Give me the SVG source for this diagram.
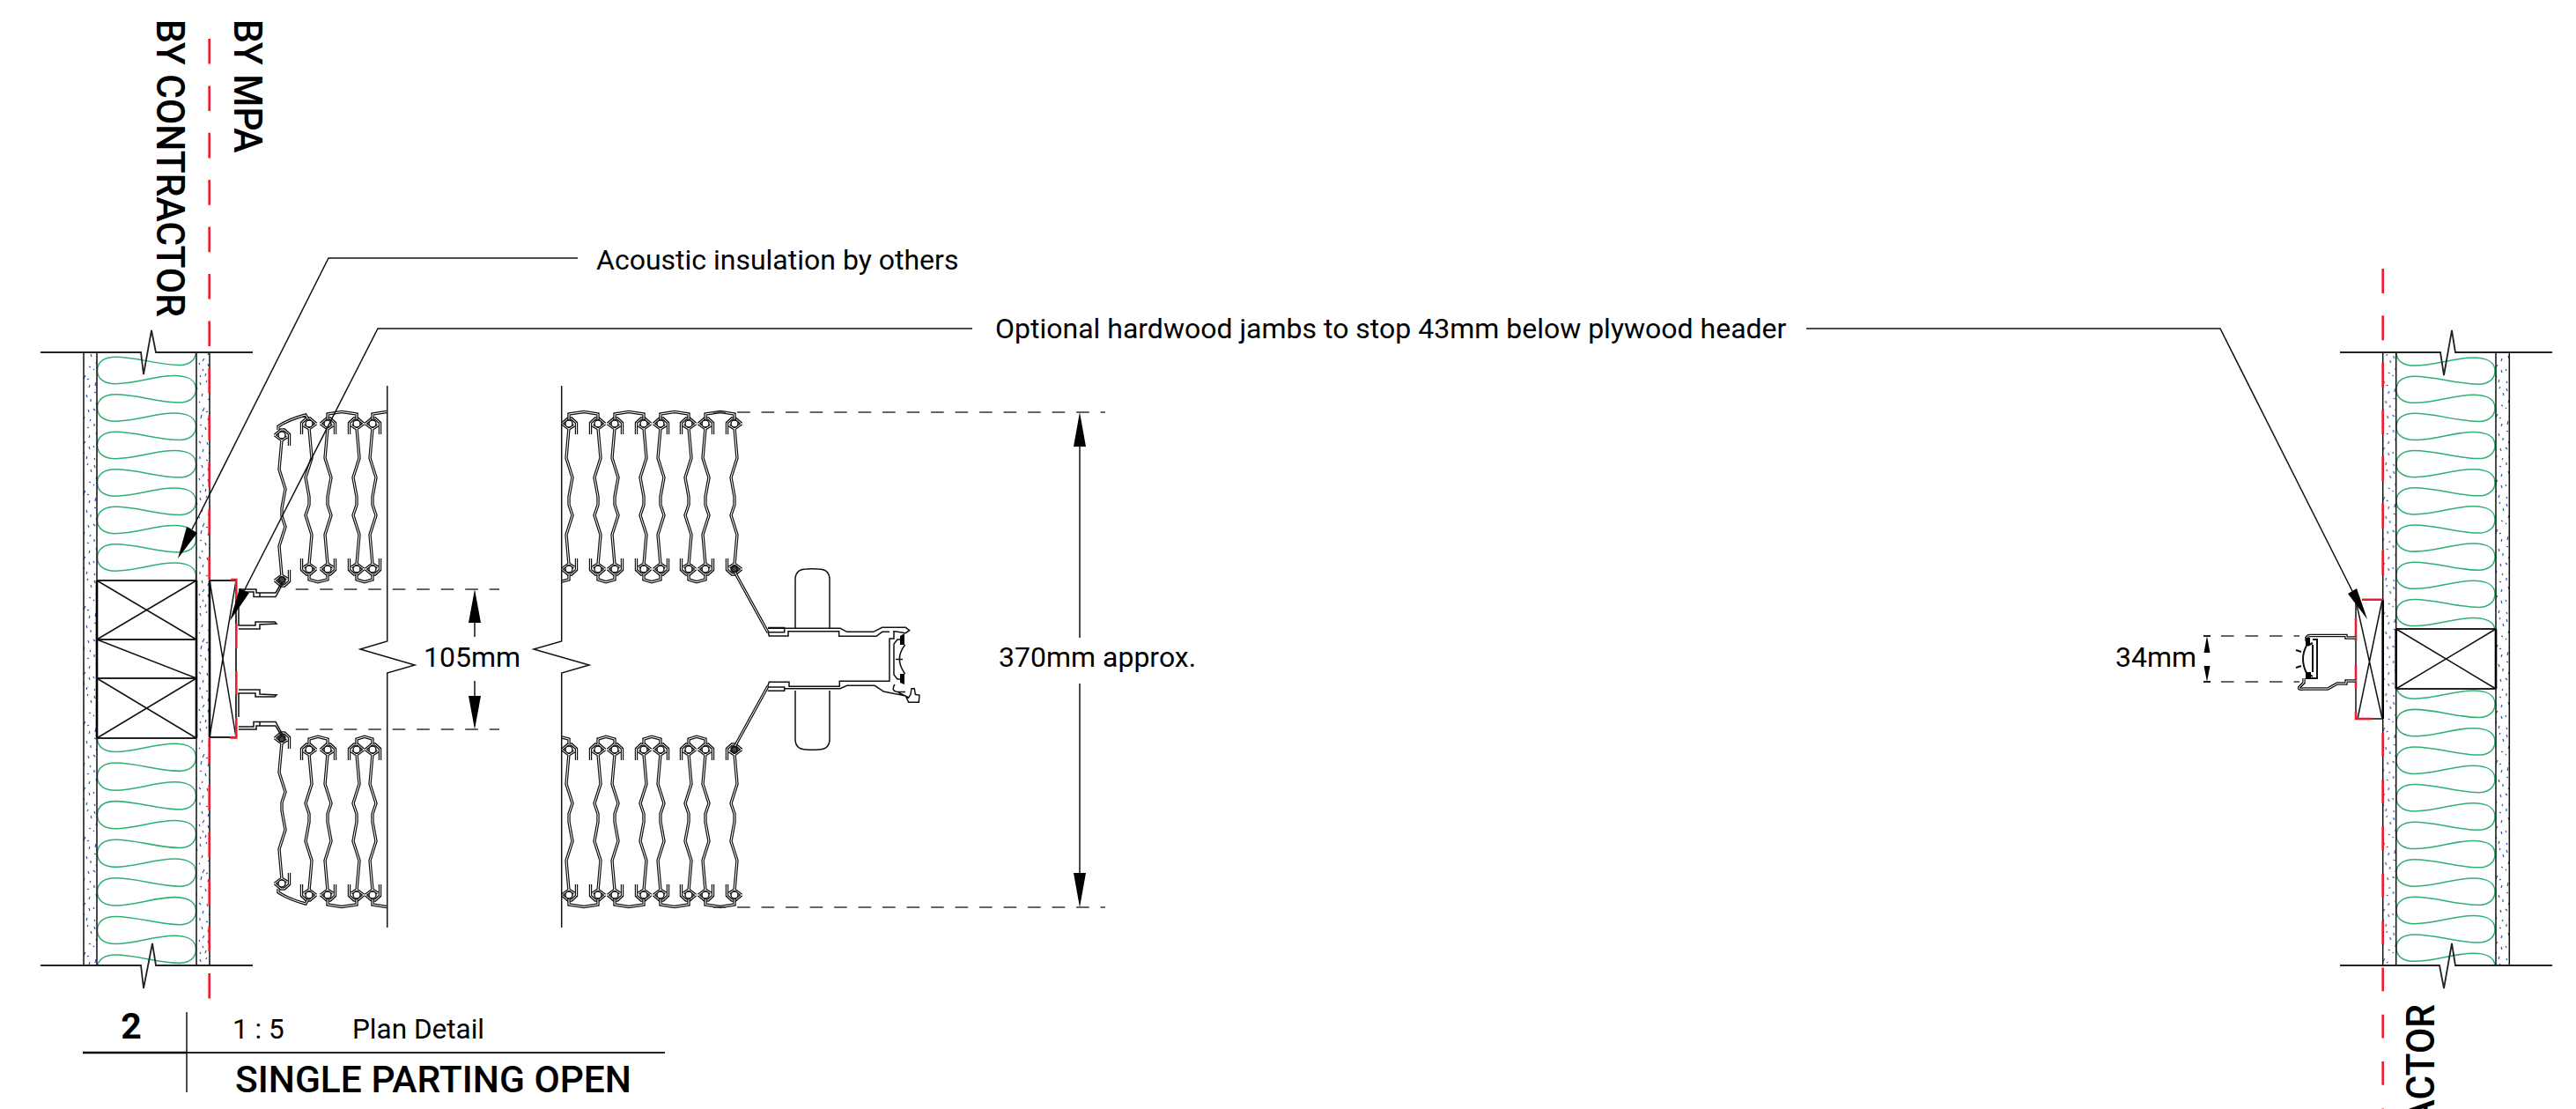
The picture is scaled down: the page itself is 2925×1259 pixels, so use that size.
<svg xmlns="http://www.w3.org/2000/svg" width="2925" height="1259" viewBox="0 0 2925 1259">
<style>
text{font-family:Roboto,"Liberation Sans",sans-serif;fill:#000}
.t{font-size:32px}
.cap{font-size:45px;font-weight:500}
.ln,.thk,.o,.i,.dash,.red,.grn,.sp,.prof{fill:none}
.ln{stroke:#111;stroke-width:1.5}
.thk{stroke:#000;stroke-width:2.6}
.hz{stroke:#222;stroke-width:1.8}
.o{stroke:#111;stroke-width:3.4;stroke-linejoin:miter}
.i{stroke:#fff;stroke-width:1}
.prof{stroke:#111;stroke-width:1.5}
.dash{stroke:#333;stroke-width:1.7;stroke-dasharray:14.6 12.9}
.red{stroke:#ed1c2e;stroke-width:2.6}
.rd{stroke-dasharray:28.6 24.8}
.grn{stroke:#2eb070;stroke-width:1.5}
.sp{stroke:#3450a8;stroke-width:1.2}
.k{fill:#fff;stroke:#111;stroke-width:1.4}
.kd{fill:#444;stroke:#111;stroke-width:1.4}
.ar{fill:#000;stroke:none}
</style>
<defs>
<clipPath id="cLU"><rect x="105" y="400" width="125" height="259"/></clipPath>
<clipPath id="cLL"><rect x="105" y="838" width="125" height="258"/></clipPath>
<clipPath id="cRU"><rect x="2715" y="400" width="125" height="314"/></clipPath>
<clipPath id="cRL"><rect x="2715" y="782" width="125" height="314"/></clipPath>
<path id="w" class="grn" d="M110.5,0C110.5,10 119,15 131,15C155,15 175,6 198,6C213,6 222.5,11 222.5,21C222.5,31 214,36 204,36C180,36 155,27 131,27C119,27 110.5,32 110.5,42"/>
<g id="waves"><use href="#w"/><use href="#w" y="42"/><use href="#w" y="84"/><use href="#w" y="126"/><use href="#w" y="168"/><use href="#w" y="210"/><use href="#w" y="252"/><use href="#w" y="294"/></g>
<pattern id="spk" patternUnits="userSpaceOnUse" width="15" height="131">
<path class="sp" d="M2,4l1,3M10,2l-1,2M13,9l1,3M5,17l-1,3M1,26l1,1M11,23l2,1M7,33l-2,4M4,41l-1,4M9,38l2,-1M12,44l-1,3M2,52l2,1M8,55l1,3M13,60l0,3M5,64l-1,2M1,71l2,2M10,72l1,3M6,80l-1,3M13,83l-1,2M2,88l0,3M9,92l2,1M4,98l1,3M12,101l-1,3M7,108l-2,3M1,113l1,2M11,114l1,3M5,120l1,2M9,125l-1,3M2,127l1,2"/>
</pattern>
<path id="bp" d="M0,5L-3,39L4,61L0,83V92L4,104L-3,126L0,160M-8,0L-1,-6H3L8.5,-1V12M-8,0L0,6L6,2M-8,165L-1,171H3L8.5,166V153M-8,165L0,159L6,163"/>
<g id="bA"><use href="#bp" class="o"/><use href="#bp" class="i"/><circle class="k" cx="0" cy="0" r="4"/><circle class="k" cx="0" cy="165" r="4"/></g>
<g id="bB"><use href="#bA" transform="scale(-1,1)"/></g>
<path id="ch" d="M372,476V470L388,467.5L405,470V476M423,476V470L439,467.5M646,476V470L663,467.5L679,470V476M698,476V470L714,467.5L731,470V476M750,476V470L766,467.5L782,470V476M801,476V470L818,467.5L834,470V476M316,488V484Q328,476 347,471L350,476M351,652V658L361,660.7L372,658V652M405,652V658L414,660.7L423,658V652M679,652V658L688,660.7L698,658V652M731,652V658L740,660.7L750,658V652M782,652V658L791,660.7L801,658V652M646,652V658L638,660M834,649L872,718"/>
<g id="curtainHalf">
<use href="#bA" x="320" y="494"/><use href="#bB" transform="translate(351,481)"/><use href="#bA" x="372" y="481"/><use href="#bB" transform="translate(405,481)"/><use href="#bA" x="423" y="481"/>
<use href="#bA" x="646" y="481"/><use href="#bB" transform="translate(679,481)"/><use href="#bA" x="698" y="481"/><use href="#bB" transform="translate(731,481)"/><use href="#bA" x="750" y="481"/><use href="#bB" transform="translate(782,481)"/><use href="#bA" x="801" y="481"/><use href="#bB" transform="translate(834,481)"/>
<use href="#ch" class="o"/><use href="#ch" class="i"/>
<circle class="kd" cx="320" cy="658" r="3.2"/><circle class="kd" cx="834" cy="646" r="3.2"/>
<path class="prof" d="M271,669H291V673H313L320,661M271,672H288V677.5H313L321,663M295,673V677M271,683V710H290V706H312L314,708L295,709V714H271"/>
</g>
</defs>

<g id="wall-left">
<rect x="95" y="400" width="15" height="696" fill="url(#spk)"/>
<rect x="223" y="363" width="15" height="696" transform="translate(0,37)" fill="url(#spk)"/>
<g clip-path="url(#cLU)"><use href="#waves" transform="translate(0,378) scale(1,1.012)"/></g>
<g clip-path="url(#cLL)"><use href="#waves" transform="translate(0,838) scale(1,1.038)"/></g>
<path class="ln" d="M95,400V1096M110,400V1096M223,400V1096M238,400V1096"/>
<path class="thk" d="M110,659V838M223,659V838"/>
<path class="ln hz" d="M46,400H160L163,425L172,375L177,400H287M46,1096H160L163,1122L173,1071L177,1096H287"/>
<path class="ln hz" d="M110,659H223M110,726H223M110,770H223M110,838H223"/>
<path class="ln" d="M110,659L223,726M223,659L110,726M110,726L223,770M110,770L223,838M223,770L110,838"/>
<path class="ln hz" d="M238,659H268V837H238"/>
<path class="thk" d="M238,659V837"/>
<path class="ln" d="M238,659L268,837M268,659L238,837"/>
<path class="red rd" d="M237.7,44V658"/><path class="red rd" d="M237.7,838V1134"/>
<path class="red" d="M262,658H268.3V683M268.3,708V736M268.3,762V789M268.3,815V837.5H261"/>
</g>

<g id="curtain">
<use href="#curtainHalf"/>
<use href="#curtainHalf" transform="translate(0,1497) scale(1,-1)"/>
<path class="ln" d="M439.7,438V728L409,737L471,755L439.7,764V1053M637.7,438V728L606,737L669,755L637.7,764V1053"/>
</g>

<g id="carrier">
<path class="ln" d="M903,713V658Q903,646 916,646Q922,645.5 929,646Q942,646 942,658V713M903,784V839Q903,851 916,851Q922,851.5 929,851Q942,851 942,839V784"/>
<path class="prof" d="M872,713.3H954L961.7,717.3H991.7L1001.7,712.3H1028.3L1032.7,715.7L1028.3,718.7L1015,716.7V725H1010V773.3H953.3V779.3H896V774.3H873.3L871.7,779.3"/>
<path class="prof" d="M872,717L873.3,722H895V716.7H952.7V722.3H995L1001.7,717.3H1010"/>
<path class="prof" d="M872,712.6H890.7V717.7H872"/>
<path class="prof" d="M871.7,784.3H890.7V780H871.7M890.7,781.7H954L961.7,778.3H993.3L1003.3,785L1028.3,790L1031.7,797.3H1043.3L1044,789.3L1039.3,788.3L1038.3,781.7H1035L1034,788.3L1031.7,792L1020,786"/>
<path class="prof" d="M1015,731V766L1019,771H1023M1015,731L1019,726H1023M1027.7,732Q1015,748 1027.7,765M1017,748.5H1025M1016,777Q1011,785 1020,785.5H1028"/>
<path class="ar" d="M1022,722L1027,719V732H1022ZM1022,765H1027V777L1022,775Z"/>
</g>

<g id="wall-right">
<rect x="95" y="0" width="15" height="696" transform="translate(2610.7,400)" fill="url(#spk)"/>
<rect x="95" y="-37" width="15" height="696" transform="translate(2739,437)" fill="url(#spk)"/>
<g clip-path="url(#cRU)"><use href="#waves" transform="translate(2610.5,400) scale(1,1.005)"/></g>
<g clip-path="url(#cRL)"><use href="#waves" transform="translate(2610.5,778) scale(1,1.014)"/></g>
<path class="ln" d="M2705.7,400V1096M2720.7,400V1096M2834,400V1096M2849.3,400V1096"/>
<path class="ln hz" d="M2657,400H2771L2775,426L2784,375L2788,400H2898M2657,1096H2770L2775,1122L2784,1071L2788,1096H2898"/>
<path class="ln hz" d="M2720.7,714H2834M2720.7,782H2834"/>
<path class="thk" d="M2720.7,714V782M2834,714V782"/>
<path class="ln" d="M2720.7,714L2834,782M2834,714L2720.7,782"/>
<path class="ln" d="M2675,681V816H2705.7"/>
<path class="thk" d="M2705.7,681V816"/>
<path class="ln" d="M2675,682L2705,816M2705,681L2677,816"/>
<path class="red" style="stroke-dasharray:28 25.3" d="M2705.7,305V653"/>
<path class="red" style="stroke-dasharray:26.7 26.6" d="M2705.7,832V1259"/>
<path class="red" d="M2682,680.7H2705.6M2675,702V728M2675,755V782M2675,808V816H2693"/>
</g>

<g id="jamb-right">
<path class="o" d="M2675,724H2664V721.5H2623Q2620,721.5 2619,724V728"/>
<path class="i" d="M2675,724H2664V721.5H2623Q2620,721.5 2619,724V728"/>
<path class="o" d="M2675,773H2664V776H2654L2643,782H2615Q2609,783 2611,780L2616,775V770"/>
<path class="i" d="M2675,773H2664V776H2654L2643,782H2615Q2609,783 2611,780L2616,775V770"/>
<path class="prof" style="stroke-width:2" d="M2626,726H2631V770H2623M2626,732V763M2620,733L2626,730M2620,764L2626,768M2619,733Q2611,748 2619,764M2607,738L2613,740M2607,758L2613,756"/>
<path class="ar" d="M2618,724H2623V733H2618ZM2618,763H2624V771H2618Z"/>
</g>

<g id="connectors">
<path class="ln" d="M656,293H373L218,601"/>
<polygon class="ar" points="202,634 212,598 224,605"/>
<path class="ln" d="M1104,373H429L277,671"/>
<polygon class="ar" points="261,705 272,668 283,673"/>
<path class="ln" d="M2051,373H2521L2671,671"/>
<polygon class="ar" points="2688,703 2666,674 2676,668"/>
<path class="dash" d="M809.6,468H1255"/>
<path class="dash" d="M809.6,1030H1255"/>
<path class="ln" d="M1226,507V724M1226,776V991"/>
<polygon class="ar" points="1226,468 1219,507 1233,507"/>
<polygon class="ar" points="1226,1030 1219,991 1233,991"/>
<path class="dash" d="M335.7,669H567"/>
<path class="dash" d="M335.7,828H567"/>
<path class="ln" d="M539,707V723M539,773V790"/>
<polygon class="ar" points="539,669 532,707 546,707"/>
<polygon class="ar" points="539,828 532,790 546,790"/>
<path class="dash" d="M2522,722H2611"/>
<path class="dash" d="M2522,774H2611"/>
<path class="ln hz" d="M2502,722H2510M2502,774H2510"/>
<polygon class="ar" points="2506,722 2502.5,741 2509.5,741"/>
<polygon class="ar" points="2506,774 2502.5,756 2509.5,756"/>
</g>

<g id="labels">
<text class="t" x="677" y="306">Acoustic insulation by others</text>
<text class="t" x="1130" y="384">Optional hardwood jambs to stop 43mm below plywood header</text>
<text class="t" x="481" y="757">105mm</text>
<text class="t" x="1134" y="757">370mm approx.</text>
<text class="t" x="2402" y="757">34mm</text>
<text class="cap" transform="translate(178,22) rotate(90) scale(.945,1)">BY CONTRACTOR</text>
<text class="cap" transform="translate(266,22) rotate(90) scale(.945,1)">BY MPA</text>
<text class="cap" text-anchor="end" transform="translate(2764,1140) rotate(-90) scale(.945,1)">ACTOR</text>
</g>

<g id="title">
<path class="ln" d="M212,1149V1240"/>
<path class="ln hz" d="M212,1195H755"/>
<path class="thk" d="M94,1195H212"/>
<text x="149" y="1179" text-anchor="middle" font-size="41" font-weight="700">2</text>
<text x="264" y="1179" font-size="31.5">1 : 5</text>
<text x="400" y="1179" font-size="31.5">Plan Detail</text>
<text x="267" y="1240" font-size="42.5" font-weight="500">SINGLE PARTING OPEN</text>
</g>
</svg>
